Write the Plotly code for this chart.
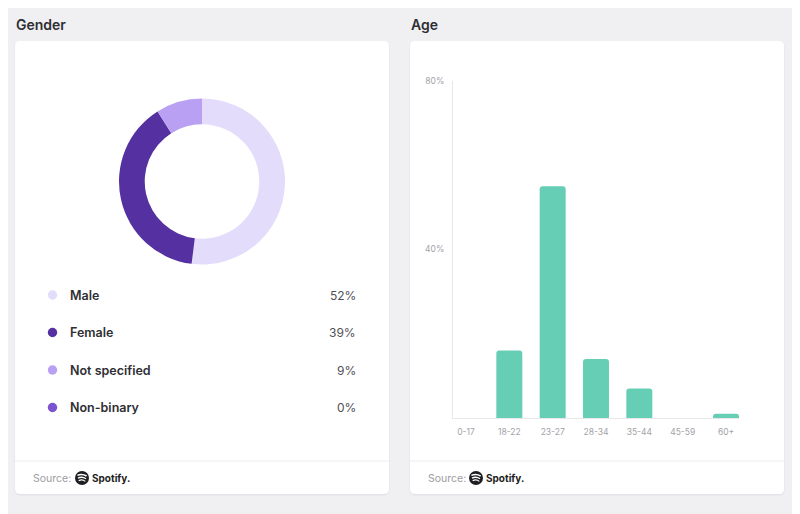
import plotly.graph_objects as go

W, H = 800, 514
OX, OY = 8, 8  # page body offset of the plot div

gender_labels = ["Male", "Female", "Not specified", "Non-binary"]
gender_values = [52, 39, 9, 0]
gender_colors = ["#e4dcfb", "#5430a0", "#b9a0f2", "#7b52cf"]

age_labels = ["0-17", "18-22", "23-27", "28-34", "35-44", "45-59", "60+"]
age_values = [0, 16, 55, 14, 7, 0, 1]
y_ticks = [40, 80]
y_tick_text = ["40%", "80%"]

FONT = "Inter"


def px(x):
    return (x - OX) / W


def py(y):
    return 1 - (y - OY) / H


def rrect(x0, y0, x1, y1, r):
    pts = [
        ("M", [(x0 + r, y0)]),
        ("L", [(x1 - r, y0)]),
        ("Q", [(x1, y0), (x1, y0 + r)]),
        ("L", [(x1, y1 - r)]),
        ("Q", [(x1, y1), (x1 - r, y1)]),
        ("L", [(x0 + r, y1)]),
        ("Q", [(x0, y1), (x0, y1 - r)]),
        ("L", [(x0, y0 + r)]),
        ("Q", [(x0, y0), (x0 + r, y0)]),
    ]
    s = ""
    for cmd, ps in pts:
        s += cmd + " " + " ".join(f"{px(a):.5f},{py(b):.5f}" for a, b in ps) + " "
    return s + "Z"


shapes = []
annotations = []

cards = [(15, 41, 389, 494), (410, 41, 784, 494)]
for (x0, y0, x1, y1) in cards:
    shapes.append(dict(type="path", xref="paper", yref="paper", layer="below",
                       path=rrect(x0 - 0.5, y0, x1 + 0.5, y1 + 1.5, 6),
                       fillcolor="#e3e3e7", line=dict(width=0)))
    shapes.append(dict(type="path", xref="paper", yref="paper", layer="below",
                       path=rrect(x0, y0, x1, y1, 5),
                       fillcolor="#ffffff", line=dict(width=0)))
    shapes.append(dict(type="line", xref="paper", yref="paper", layer="below",
                       x0=px(x0), x1=px(x1), y0=py(461), y1=py(461),
                       line=dict(color="#ececee", width=1)))

# titles
annotations.append(dict(text="Gender", x=px(14), y=py(25), xref="paper", yref="paper",
                        xanchor="left", yanchor="middle", showarrow=False,
                        font=dict(family=FONT, size=14, color="#2e2e33", weight=600)))
annotations.append(dict(text="Age", x=px(409), y=py(25), xref="paper", yref="paper",
                        xanchor="left", yanchor="middle", showarrow=False,
                        font=dict(family=FONT, size=14, color="#2e2e33", weight=600)))

# footers with Spotify logo
for sx, cx in [(31, 82), (426, 476)]:
    annotations.append(dict(text="Source:", x=px(sx), y=py(478.5), xref="paper", yref="paper",
                            xanchor="left", yanchor="middle", showarrow=False,
                            font=dict(family=FONT, size=10.5, color="#9c9ca3")))
    r = 7
    shapes.append(dict(type="circle", xref="paper", yref="paper",
                       x0=px(cx - r), x1=px(cx + r), y0=py(478 + r), y1=py(478 - r),
                       fillcolor="#1e1e22", line=dict(width=0)))
    for dy, hw, lw in [(-2.6, 4.6, 1.6), (0.2, 4.0, 1.4), (2.8, 3.3, 1.2)]:
        ya = 478 + dy
        path = (f"M {px(cx - hw):.5f},{py(ya):.5f} "
                f"Q {px(cx):.5f},{py(ya - 2.2):.5f} {px(cx + hw):.5f},{py(ya + 0.6):.5f}")
        shapes.append(dict(type="path", xref="paper", yref="paper", path=path,
                           line=dict(color="#ffffff", width=lw)))
    annotations.append(dict(text="Spotify.", x=px(cx + 7.5), y=py(478.5), xref="paper", yref="paper",
                            xanchor="left", yanchor="middle", showarrow=False,
                            font=dict(family=FONT, size=10, color="#1e1e22", weight=700)))

# gender legend
rows_y = [295, 332.5, 370, 407.5]
for lab, val, col, yy in zip(gender_labels, gender_values, gender_colors, rows_y):
    rr = 4.7
    shapes.append(dict(type="circle", xref="paper", yref="paper",
                       x0=px(52.5 - rr), x1=px(52.5 + rr), y0=py(yy + rr), y1=py(yy - rr),
                       fillcolor=col, line=dict(width=0)))
    annotations.append(dict(text=lab, x=px(68), y=py(yy), xref="paper", yref="paper",
                            xanchor="left", yanchor="middle", showarrow=False,
                            font=dict(family=FONT, size=12.5, color="#2e2e33", weight=600)))
    annotations.append(dict(text=f"{val}%", x=px(357.5), y=py(yy), xref="paper", yref="paper",
                            xanchor="right", yanchor="middle", showarrow=False,
                            font=dict(family=FONT, size=12, color="#505056")))

fig = go.Figure()

cxp, cyp, R = 202, 181.5, 83
fig.add_trace(go.Pie(
    labels=gender_labels, values=gender_values,
    marker=dict(colors=gender_colors, line=dict(width=0)),
    hole=0.69, sort=False, direction="clockwise", rotation=0,
    textinfo="none", hoverinfo="label+percent", showlegend=False,
    domain=dict(x=[px(cxp - R), px(cxp + R)], y=[py(cyp + R), py(cyp - R)]),
))

fig.add_trace(go.Bar(
    x=age_labels, y=age_values, marker=dict(color="#66ceb5", line=dict(width=0), cornerradius=3),
    width=0.6, showlegend=False, hoverinfo="x+y",
))

fig.update_layout(
    width=W, height=H,
    margin=dict(l=0, r=0, t=0, b=0, pad=0, autoexpand=False),
    paper_bgcolor="#f0f0f2",
    plot_bgcolor="rgba(0,0,0,0)",
    shapes=shapes,
    annotations=annotations,
    xaxis=dict(domain=[px(453), px(739)], range=[-0.3, 6.3], showgrid=False, zeroline=False,
               showline=True, linecolor="#e8e8ea", linewidth=1, automargin=False,
               ticks="", ticklabelstandoff=6,
               tickfont=dict(family=FONT, size=8.5, color="#a2a2a8"), fixedrange=True),
    yaxis=dict(domain=[py(418), py(81)], range=[0, 80], tickvals=y_ticks, ticktext=y_tick_text,
               showgrid=False, zeroline=False, showline=True, linecolor="#e8e8ea", linewidth=1,
               automargin=False, ticks="", ticklabelstandoff=6,
               tickfont=dict(family=FONT, size=8.5, color="#a2a2a8"), fixedrange=True),
    bargap=0.4,
)

fig.write_html("out.html")
